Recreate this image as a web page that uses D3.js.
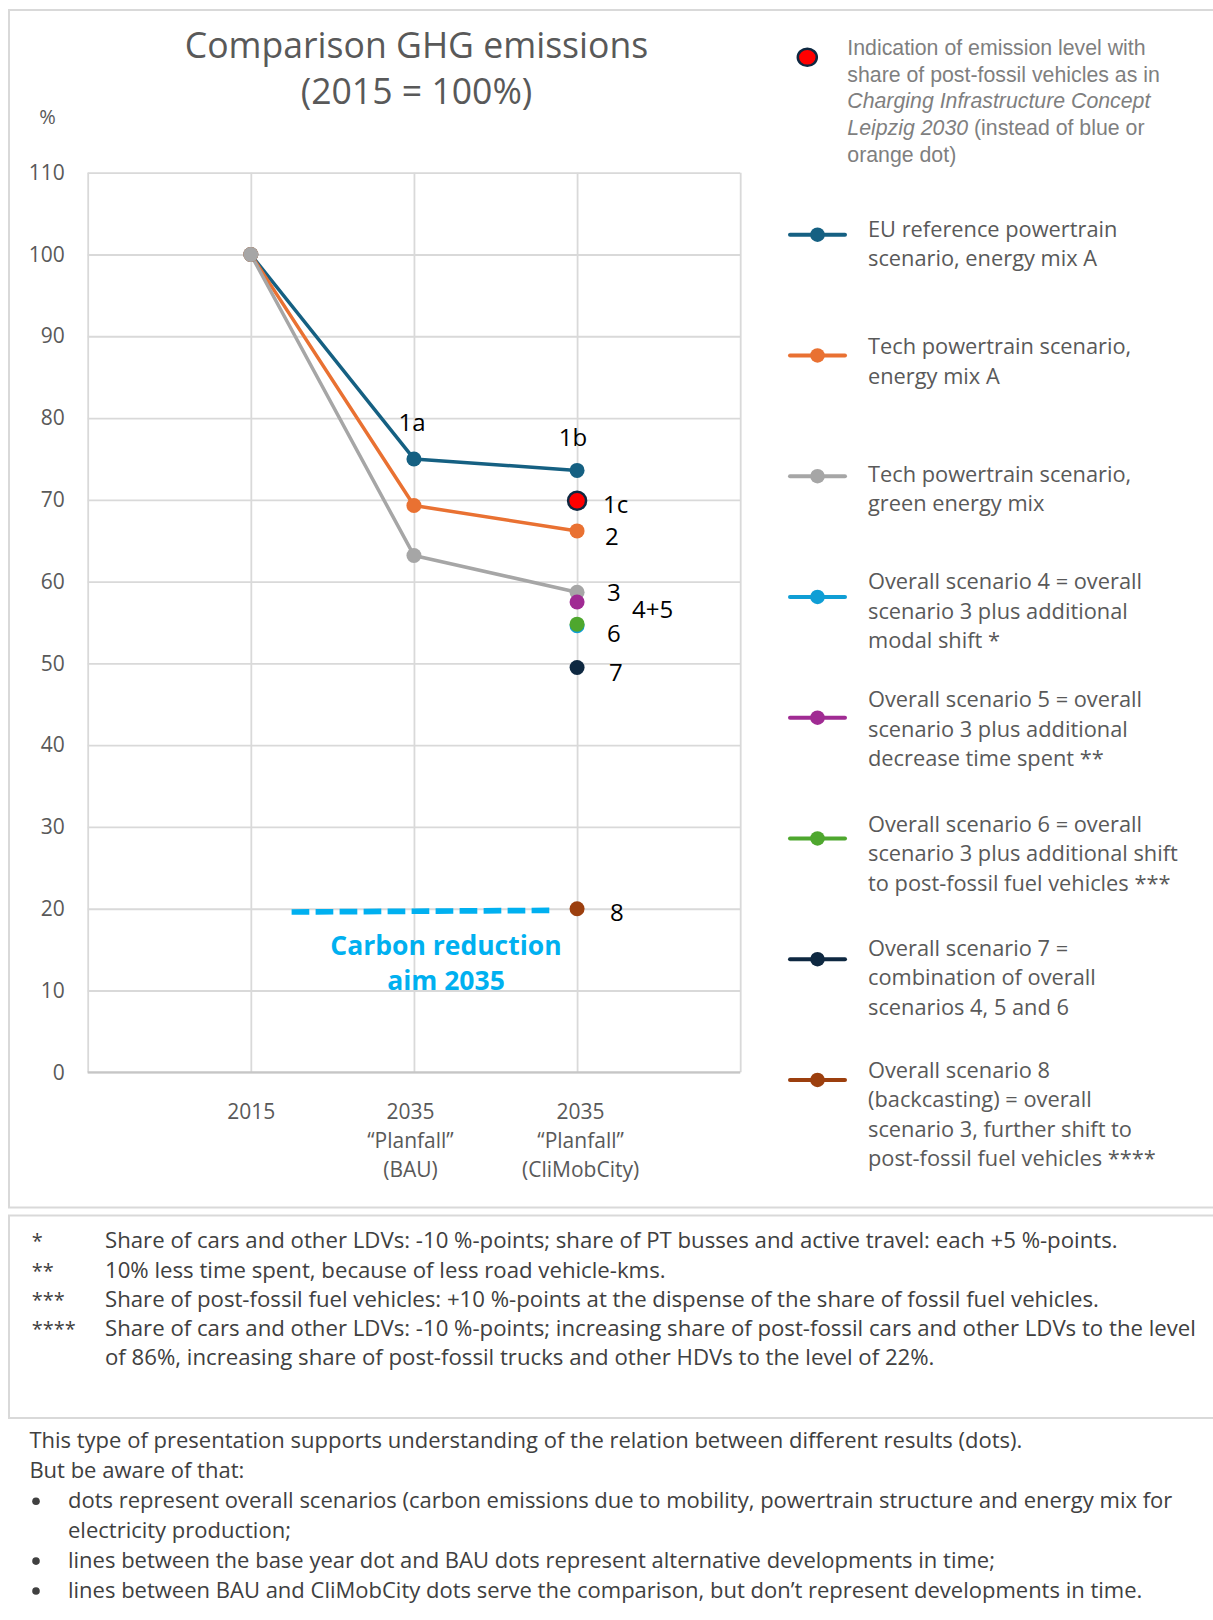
<!DOCTYPE html>
<html><head><meta charset="utf-8">
<script src="https://cdn.jsdelivr.net/npm/d3@7/dist/d3.min.js"></script>
<style>
html,body{margin:0;padding:0;background:#fff;}
svg{display:block;}
</style></head><body>
<svg id="chart" width="1213" height="1620"></svg>
<script>
// ---------------- DATA ----------------
const titleLines = ["Comparison GHG emissions", "(2015 = 100%)"];
const yUnit = "%";
const yTicks = [0, 10, 20, 30, 40, 50, 60, 70, 80, 90, 100, 110];
const categoryLabels = [
  ["2015"],
  ["2035", "“Planfall”", "(BAU)"],
  ["2035", "“Planfall”", "(CliMobCity)"]
];
// line series (values at 2015, 2035 BAU, 2035 CliMobCity)
const euReferenceMixA = [100, 75.0, 73.6];
const techMixA        = [100, 69.3, 66.2];
const techGreenMix    = [100, 63.2, 58.7];
// single CliMobCity dots
const singleNames  = ["1c", "4", "5", "6", "7", "8"];
const singleValues = [69.9, 54.6, 57.5, 54.8, 49.5, 20.0];
// carbon reduction aim line (start, end)
const targetValues = [19.6, 19.8];
const targetLabel = ["Carbon reduction", "aim 2035"];
// point labels
const pointLabels = ["1a", "1b", "1c", "2", "3", "4+5", "6", "7", "8"];

const redLegendLines = [
  [["Indication of emission level with", false]],
  [["share of post-fossil vehicles as in", false]],
  [["Charging Infrastructure Concept", true]],
  [["Leipzig 2030", true], [" (instead of blue or", false]],
  [["orange dot)", false]]
];
const legendLabels = [
  ["EU reference powertrain", "scenario, energy mix A"],
  ["Tech powertrain scenario,", "energy mix A"],
  ["Tech powertrain scenario,", "green energy mix"],
  ["Overall scenario 4 = overall", "scenario 3 plus additional", "modal shift *"],
  ["Overall scenario 5 = overall", "scenario 3 plus additional", "decrease time spent **"],
  ["Overall scenario 6 = overall", "scenario 3 plus additional shift", "to post-fossil fuel vehicles ***"],
  ["Overall scenario 7 =", "combination of overall", "scenarios 4, 5 and 6"],
  ["Overall scenario 8", "(backcasting) = overall", "scenario 3, further shift to", "post-fossil fuel vehicles ****"]
];
const footnoteMarks = ["*", "**", "***", "****", ""];
const footnoteTexts = [
  "Share of cars and other LDVs: -10 %-points; share of PT busses and active travel: each +5 %-points.",
  "10% less time spent, because of less road vehicle-kms.",
  "Share of post-fossil fuel vehicles: +10 %-points at the dispense of the share of fossil fuel vehicles.",
  "Share of cars and other LDVs: -10 %-points; increasing share of post-fossil cars and other LDVs to the level",
  "of 86%, increasing share of post-fossil trucks and other HDVs to the level of 22%."
];
const noteBullets = [false, false, true, false, true, true];
const noteTexts = [
  "This type of presentation supports understanding of the relation between different results (dots).",
  "But be aware of that:",
  "dots represent overall scenarios (carbon emissions due to mobility, powertrain structure and energy mix for",
  "electricity production;",
  "lines between the base year dot and BAU dots represent alternative developments in time;",
  "lines between BAU and CliMobCity dots serve the comparison, but don’t represent developments in time."
];

// ---------------- STYLE / LAYOUT ----------------
const C = {
  blue: "#156082", orange: "#E97132", gray: "#A6A6A6", cyan: "#0F9ED5",
  purple: "#A02B93", green: "#4EA72E", navy: "#0E2841", brown: "#9C3F0E",
  red: "#FF0000", target: "#00B0F0", grid: "#D9D9D9", text: "#595959", dark: "#404040"
};
const singleColors = [C.red, C.cyan, C.purple, C.green, C.navy, C.brown];
const legendColors = [C.blue, C.orange, C.gray, C.cyan, C.purple, C.green, C.navy, C.brown];
const FONT = "'Open Sans', sans-serif";

const svg = d3.select("#chart");
const x = d3.scaleLinear().domain([0, 4]).range([87.7, 740.2]);
const y = d3.scaleLinear().domain([0, 110]).range([1072.3, 172.7]);

// frames
const frame = svg.append("g").attr("fill", "none").attr("stroke", "#D9D9D9").attr("stroke-width", 2);
frame.append("path").attr("d", "M1220,10 H9 V1207.5 H1220");
frame.append("path").attr("d", "M1220,1215.5 H9 V1418 H1220");

// title
svg.append("text").attr("font-family", FONT).attr("font-size", 35.6).attr("fill", C.text)
  .attr("text-anchor", "middle")
  .selectAll("tspan").data(titleLines).join("tspan")
  .attr("x", 416.5).attr("y", (d, i) => 58 + i * 46).text(d => d);

svg.append("text").attr("x", 47.5).attr("y", 124).attr("text-anchor", "middle")
  .attr("font-family", FONT).attr("font-size", 20).attr("fill", C.text).text(yUnit);

// grid
const gH = svg.append("g").attr("transform", `translate(${x(0)},0)`)
  .call(d3.axisLeft(y).tickValues(yTicks).tickSize(-(x(4) - x(0))).tickFormat(""));
gH.select(".domain").remove();
gH.selectAll("line").attr("stroke", C.grid).attr("stroke-width", 1.8);
const gV = svg.append("g").attr("transform", `translate(0,${y(0)})`)
  .call(d3.axisBottom(x).tickValues([0, 1, 2, 3, 4]).tickSize(-(y(0) - y(110))).tickFormat(""));
gV.select(".domain").remove();
gV.selectAll("line").attr("stroke", C.grid).attr("stroke-width", 1.8);
svg.append("line").attr("x1", x(0)).attr("x2", x(4)).attr("y1", y(0)).attr("y2", y(0))
  .attr("stroke", "#C6C6C6").attr("stroke-width", 2);

// y tick labels
const yAx = svg.append("g").attr("transform", `translate(${x(0)},0)`)
  .call(d3.axisLeft(y).tickValues(yTicks).tickSize(0).tickPadding(23));
yAx.select(".domain").remove();
yAx.selectAll("text").attr("font-family", FONT).attr("font-size", 21).attr("fill", C.text);

// x tick labels
const xShift = [0, -4, 3];
const xAx = svg.append("g").attr("transform", `translate(0,${y(0)})`)
  .call(d3.axisBottom(x).tickValues([1, 2, 3]).tickSize(0).tickFormat(""));
xAx.select(".domain").remove();
xAx.selectAll(".tick").each(function (d, i) {
  const t = d3.select(this).select("text").attr("y", null).attr("dy", null)
    .attr("font-family", FONT).attr("font-size", 21).attr("fill", C.text).attr("text-anchor", "middle");
  t.selectAll("tspan").data(categoryLabels[i]).join("tspan")
    .attr("x", xShift[i]).attr("y", (l, j) => 47 + j * 29).text(l => l);
});

// target line
svg.append("line")
  .attr("x1", x(1.25)).attr("x2", x(2.84))
  .attr("y1", y(targetValues[0])).attr("y2", y(targetValues[1]))
  .attr("stroke", C.target).attr("stroke-width", 5.7).attr("stroke-dasharray", "17.7 6.3");
svg.append("text").attr("font-family", FONT).attr("font-weight", 700).attr("font-size", 26.5)
  .attr("fill", C.target).attr("text-anchor", "middle")
  .selectAll("tspan").data(targetLabel).join("tspan")
  .attr("x", 446).attr("y", (d, i) => 955 + i * 35).text(d => d);

// lines
const line = d3.line().x((d, i) => x(i + 1)).y(d => y(d));
const seriesList = [[euReferenceMixA, C.blue], [techMixA, C.orange], [techGreenMix, C.gray]];
seriesList.forEach(([vals, col]) => {
  svg.append("path").datum(vals).attr("d", line).attr("fill", "none")
    .attr("stroke", col).attr("stroke-width", 3.5).attr("stroke-linejoin", "round");
});
seriesList.forEach(([vals, col]) => {
  svg.append("g").selectAll("circle").data(vals).join("circle")
    .attr("cx", (d, i) => x(i + 1)).attr("cy", d => y(d)).attr("r", 7.5).attr("fill", col);
});
// single dots (draw in order: 4 under 6)
const order = [1, 2, 3, 4, 5, 0];
order.forEach(k => {
  const c = svg.append("circle").attr("cx", x(3)).attr("cy", y(singleValues[k]))
    .attr("fill", singleColors[k]);
  if (singleNames[k] === "1c") c.attr("r", 9).attr("stroke", C.navy).attr("stroke-width", 2.5);
  else c.attr("r", 7.5);
});

// point labels (anchor x, value, dx, dy, anchor)
const labelAnchors = [
  [2, euReferenceMixA[1], -2, -27.5, "middle"],
  [3, euReferenceMixA[2], -4, -24.5, "middle"],
  [3, singleValues[0], 26, 12, "start"],
  [3, techMixA[2], 28, 14, "start"],
  [3, techGreenMix[2], 30, 9, "start"],
  [3, singleValues[2], 55, 15.6, "start"],
  [3, singleValues[3], 30, 17.4, "start"],
  [3, singleValues[4], 32, 13.4, "start"],
  [3, singleValues[5], 33, 12.7, "start"]
];
svg.append("g").selectAll("text").data(pointLabels).join("text")
  .attr("x", (d, i) => x(labelAnchors[i][0]) + labelAnchors[i][2])
  .attr("y", (d, i) => y(labelAnchors[i][1]) + labelAnchors[i][3])
  .attr("text-anchor", (d, i) => labelAnchors[i][4])
  .attr("font-family", FONT).attr("font-size", 24).attr("fill", "#000").text(d => d);

// red legend
svg.append("ellipse").attr("cx", 807.3).attr("cy", 57.3).attr("rx", 9.5).attr("ry", 8.5)
  .attr("fill", C.red).attr("stroke", C.navy).attr("stroke-width", 2.5);
const rl = svg.append("text").attr("font-family", "'Liberation Sans', Arial, sans-serif")
  .attr("font-size", 21.3).attr("fill", "#7F7F7F");
redLegendLines.forEach((parts, i) => {
  parts.forEach((p, j) => {
    const ts = rl.append("tspan").text(p[0]).attr("font-style", p[1] ? "italic" : "normal");
    if (j === 0) ts.attr("x", 847.3).attr("y", 55 + i * 26.7);
  });
});

// series legend
const legendMarkerY = d3.range(8).map(i => 234.7 + i * 120.75);
const legendTextY = [236.7, 354.3, 481.7, 589.3, 707.3, 831.7, 956, 1077.7];
legendLabels.forEach((lines, i) => {
  const g = svg.append("g");
  g.append("line").attr("x1", 790).attr("x2", 845).attr("y1", legendMarkerY[i]).attr("y2", legendMarkerY[i])
    .attr("stroke", legendColors[i]).attr("stroke-width", 4).attr("stroke-linecap", "round");
  g.append("circle").attr("cx", 817.5).attr("cy", legendMarkerY[i]).attr("r", 7.3).attr("fill", legendColors[i]);
  g.append("text").attr("font-family", FONT).attr("font-size", 21.8).attr("fill", C.text)
    .selectAll("tspan").data(lines).join("tspan")
    .attr("x", 868).attr("y", (d, j) => legendTextY[i] + j * 29.4).text(d => d);
});

// footnotes
const fn = svg.append("g").attr("font-family", FONT).attr("fill", C.dark);
footnoteTexts.forEach((t, i) => {
  const yy = 1248.3 + i * 29.2;
  fn.append("text").attr("x", 31.7).attr("y", yy).attr("font-size", 20).text(footnoteMarks[i]);
  fn.append("text").attr("x", 105).attr("y", yy).attr("font-size", 22.2).text(t);
});

// notes
const nt = svg.append("g").attr("font-family", FONT).attr("font-size", 22).attr("fill", C.dark);
noteTexts.forEach((t, i) => {
  const yy = 1448 + i * 29.9;
  const indented = i >= 2;
  nt.append("text").attr("x", indented ? 68 : 29.4).attr("y", yy).text(t);
  if (noteBullets[i]) nt.append("circle").attr("cx", 36).attr("cy", yy - 6.5).attr("r", 3.8).attr("fill", C.dark);
});
</script>
</body></html>
